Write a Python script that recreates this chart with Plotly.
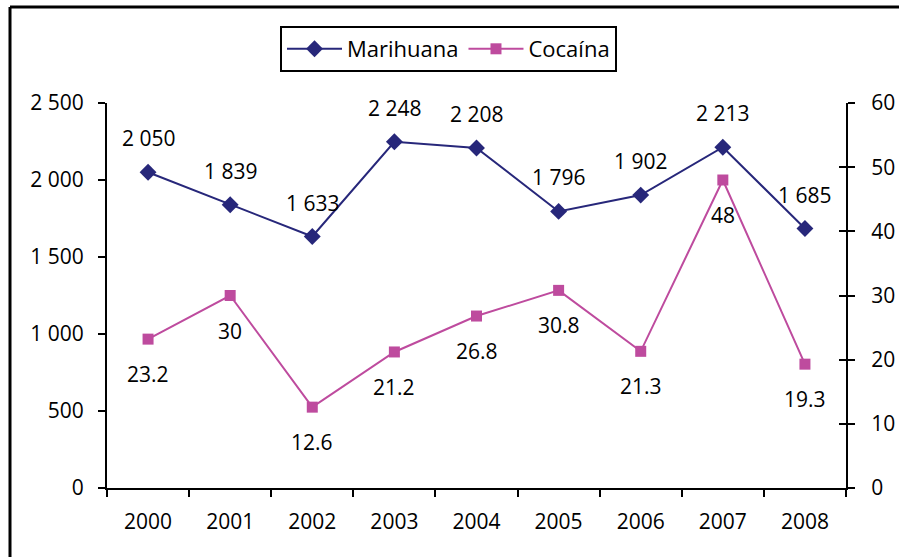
import plotly.graph_objects as go

years = ["2000", "2001", "2002", "2003", "2004", "2005", "2006", "2007", "2008"]
marihuana = [2050, 1839, 1633, 2248, 2208, 1796, 1902, 2213, 1685]
cocaina = [23.2, 30, 12.6, 21.2, 26.8, 30.8, 21.3, 48, 19.3]

NAVY = "#27277A"
MAGENTA = "#BE4B9E"
FONT = "Open Sans"
FS = 21

W, H = 899, 557
L, R, T, B = 107, 53, 103, 69
pw, ph = W - L - R, H - T - B

fig = go.Figure()
fig.add_trace(go.Scatter(
    x=years, y=marihuana, name="Marihuana", mode="lines+markers",
    line=dict(color=NAVY, width=2),
    marker=dict(symbol="diamond", size=13, color=NAVY),
    yaxis="y",
))
fig.add_trace(go.Scatter(
    x=years, y=cocaina, name="Cocaína", mode="lines+markers",
    line=dict(color=MAGENTA, width=2),
    marker=dict(symbol="square", size=11, color=MAGENTA),
    yaxis="y2",
))
# invisible trace to activate the crossing-tick overlay axis
fig.add_trace(go.Scatter(x=[years[0]], y=[0], yaxis="y3", showlegend=False,
                         mode="markers", marker=dict(opacity=0), hoverinfo="skip"))

annotations = []
for i, v in enumerate(marihuana):
    annotations.append(dict(x=i, y=v, xref="x", yref="y", text=f"{v:,}".replace(",", " "),
                            showarrow=False, yshift=34, font=dict(family=FONT, size=FS, color="black")))
for i, v in enumerate(cocaina):
    annotations.append(dict(x=i, y=v, xref="x", yref="y2", text=f"{v:g}",
                            showarrow=False, yshift=-35, font=dict(family=FONT, size=FS, color="black")))

def px_x(p):
    return (p - L) / pw

def px_y(p):
    return (T + ph - p) / ph

shapes = [
    dict(type="line", xref="paper", yref="paper",
         x0=px_x(10), x1=px_x(10), y0=px_y(7), y1=px_y(H + 5),
         line=dict(color="black", width=3)),
    dict(type="line", xref="paper", yref="paper",
         x0=px_x(10), x1=px_x(W + 5), y0=px_y(7), y1=px_y(7),
         line=dict(color="black", width=3)),
]

fig.update_layout(
    width=W, height=H,
    margin=dict(l=L, r=R, t=T, b=B, pad=0, autoexpand=False),
    paper_bgcolor="white", plot_bgcolor="white",
    font=dict(family=FONT, size=FS, color="black"),
    separators=". ",
    showlegend=True,
    legend=dict(orientation="h", x=px_x(280), xanchor="left",
                y=px_y(26), yanchor="top",
                bordercolor="black", borderwidth=2, bgcolor="white",
                font=dict(family=FONT, size=22, color="black"),
                itemwidth=55, tracegroupgap=0),
    xaxis=dict(type="category", range=[-0.5, 8.5], showline=True, linecolor="black", linewidth=2,
               ticks="outside", tickson="boundaries", ticklen=7, tickwidth=2, tickcolor="black",
               showgrid=False, zeroline=False, ticklabelstandoff=14, tickangle=0, automargin=False),
    yaxis=dict(range=[0, 2500], dtick=500, tickformat=",d", showline=True, linecolor="black",
               linewidth=2, ticks="outside", ticklen=7, tickwidth=2, tickcolor="black",
               showgrid=False, zeroline=False, ticklabelstandoff=10, automargin=False),
    yaxis2=dict(range=[0, 60], dtick=10, overlaying="y", side="right", showline=True,
                linecolor="black", linewidth=2, ticks="outside", ticklen=7, tickwidth=2,
                tickcolor="black", showgrid=False, zeroline=False, ticklabelstandoff=12,
                automargin=False),
    yaxis3=dict(range=[0, 60], dtick=10, overlaying="y", side="right", showline=False,
                ticks="inside", ticklen=7, tickwidth=2, tickcolor="black",
                showticklabels=False, showgrid=False, zeroline=False, automargin=False),
    annotations=annotations,
    shapes=shapes,
)

fig.write_html("out.html", config={"displayModeBar": False},
               post_script="document.body.style.margin='0';document.body.style.overflow='hidden';")
